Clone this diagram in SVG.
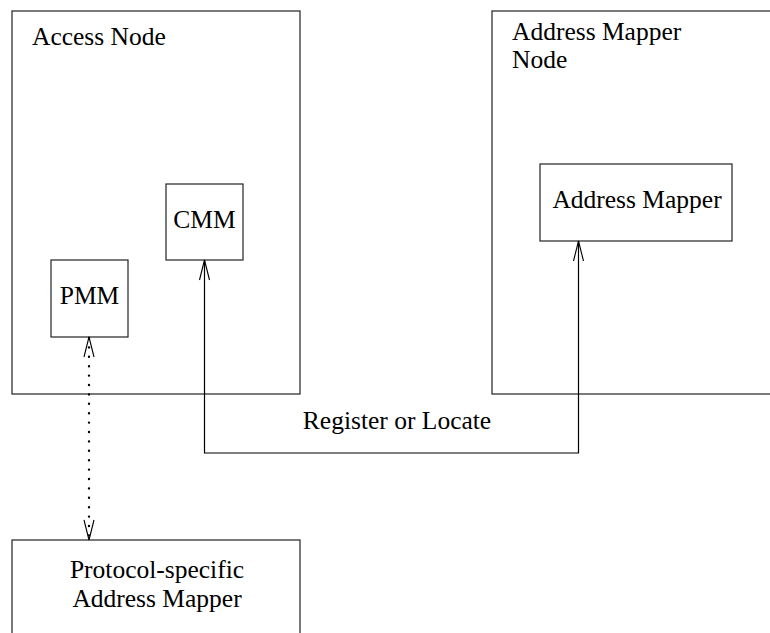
<svg xmlns="http://www.w3.org/2000/svg" width="770" height="633" viewBox="0 0 770 633">
<style>
.box{fill:none;stroke:#222;stroke-width:1.2}
.lbl{font-family:"Liberation Serif","Times New Roman",serif;font-size:25.5px;fill:#000}
.c{text-anchor:middle}
.conn{fill:none;stroke:#000;stroke-width:1.2}
.dot{fill:none;stroke:#000;stroke-width:2.4;stroke-linecap:round;stroke-dasharray:0 9.4}
</style>
<defs>
<marker id="v" markerUnits="userSpaceOnUse" markerWidth="30" markerHeight="30" refX="0" refY="0" viewBox="-25 -10 30 20" orient="auto-start-reverse" overflow="visible">
<path d="M-20,-5 L0,0 L-20,5" fill="none" stroke="#000" stroke-width="1.1"/>
</marker>
</defs>
<g id="access-node">
<rect class="box" x="12" y="11" width="288" height="383"/>
<text class="lbl" x="32" y="45">Access Node</text>
</g>
<g id="address-mapper-node">
<rect class="box" x="492" y="11" width="300" height="383"/>
<text class="lbl" x="512" y="40">Address Mapper</text>
<text class="lbl" x="512" y="68">Node</text>
</g>
<g id="cmm">
<rect class="box" x="166" y="184" width="77" height="76"/>
<text class="lbl c" x="204.5" y="228">CMM</text>
</g>
<g id="pmm">
<rect class="box" x="51" y="260" width="77" height="77"/>
<text class="lbl c" x="89.5" y="304">PMM</text>
</g>
<g id="address-mapper">
<rect class="box" x="540" y="164" width="192" height="77"/>
<text class="lbl c" x="637" y="208">Address Mapper</text>
</g>
<g id="protocol-specific-address-mapper">
<rect class="box" x="12" y="540" width="288" height="110"/>
<text class="lbl c" x="157" y="578">Protocol-specific</text>
<text class="lbl c" x="157" y="607">Address Mapper</text>
</g>
<g id="connectors">
<path class="conn" d="M204.5,260 L204.5,453 L578.5,453 L578.5,241" marker-start="url(#v)" marker-end="url(#v)"/>
<text class="lbl c" x="397" y="429">Register or Locate</text>
<path class="dot" d="M89,338 L89,540"/>
<path d="M89,337 L89,338" fill="none" stroke="none" marker-start="url(#v)"/>
<path d="M89,539 L89,540" fill="none" stroke="none" marker-end="url(#v)"/>
</g>
</svg>
